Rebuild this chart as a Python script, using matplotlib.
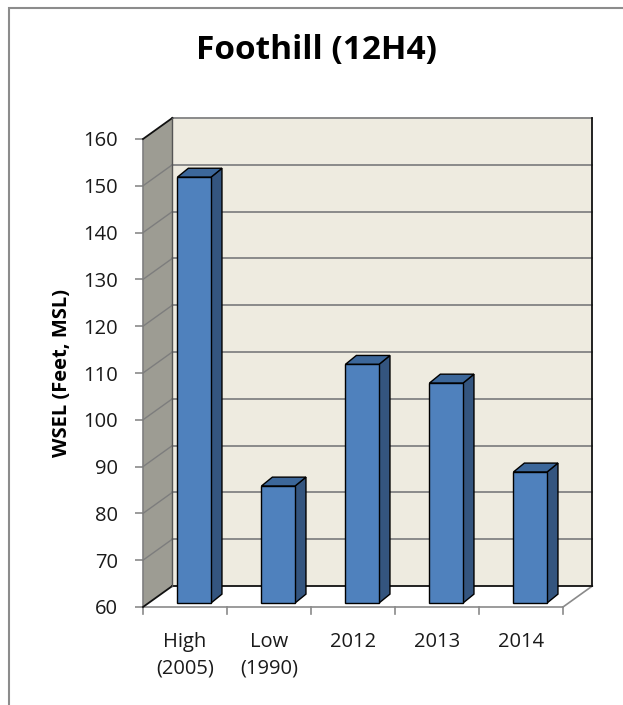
import matplotlib
matplotlib.use("Agg")
import matplotlib.pyplot as plt
from matplotlib.patches import Polygon, Rectangle

# Data
categories = ["High\n(2005)", "Low\n(1990)", "2012", "2013", "2014"]
wsel = [151, 85, 111, 107, 88]
y_ticks = [60, 70, 80, 90, 100, 110, 120, 130, 140, 150, 160]
title = "Foothill (12H4)"
y_label = "WSEL (Feet, MSL)"

# Styling
FONT = "Open Sans"
WALL_BACK = "#eeebe0"
WALL_SIDE = "#9d9c93"
FLOOR = "#ffffff"
GRID = "#8a8a8a"
BAR_FRONT = "#4f81bd"
BAR_SIDE = "#34557f"
BAR_TOP = "#3c679a"

ymin, ymax = y_ticks[0], y_ticks[-1]
n = len(categories)
# oblique depth of the plot box (in slot / value units)
DX, DY = 0.35, 4.5
# bar geometry
BAR_W = 0.40
BAR_OFF_X, BAR_OFF_Y = 0.11, 0.85
BAR_DX, BAR_DY = 0.13, 1.9

fig = plt.figure(figsize=(6.23, 7.05), dpi=100)
fig.patch.set_facecolor("white")

# chart frame
fig.add_artist(Rectangle((9 / 623, -0.05), 1.2, (705 - 8) / 705 + 0.05,
                         transform=fig.transFigure, fill=False,
                         edgecolor="#8c8c8c", linewidth=1.5))

ax = fig.add_axes([143 / 623, (705 - 607) / 705, 420 / 623, 468 / 705])
ax.set_xlim(-0.5, n - 0.5)
ax.set_ylim(ymin, ymax)
ax.patch.set_visible(False)
for s in ax.spines.values():
    s.set_visible(False)

x0, x1 = -0.5, n - 0.5

# floor
ax.add_patch(Polygon([(x0, ymin), (x1, ymin), (x1 + DX, ymin + DY), (x0 + DX, ymin + DY)],
                     closed=True, facecolor=FLOOR, edgecolor="none", clip_on=False, zorder=1))
ax.plot([x0, x1], [ymin, ymin], color=GRID, lw=1.2, clip_on=False, zorder=2)
ax.plot([x1, x1 + DX], [ymin, ymin + DY], color=GRID, lw=1.2, clip_on=False, zorder=2)

# side wall
ax.add_patch(Polygon([(x0, ymin), (x0, ymax), (x0 + DX, ymax + DY), (x0 + DX, ymin + DY)],
                     closed=True, facecolor=WALL_SIDE, edgecolor="none", clip_on=False, zorder=1))
ax.plot([x0, x0], [ymin, ymax], color="#7f7f7f", lw=1.2, clip_on=False, zorder=2)
ax.plot([x0, x0 + DX], [ymax, ymax + DY], color="#111111", lw=1.3, clip_on=False, zorder=3)
ax.plot([x0, x0 + DX], [ymin, ymin + DY], color="#111111", lw=1.3, clip_on=False, zorder=3)

# back wall
ax.add_patch(Rectangle((x0 + DX, ymin + DY), x1 - x0, ymax - ymin,
                       facecolor=WALL_BACK, edgecolor="none", clip_on=False, zorder=1))
for v in y_ticks[1:-1]:
    ax.plot([x0 + DX, x1 + DX], [v + DY, v + DY], color=GRID, lw=1.4, clip_on=False, zorder=2)
    ax.plot([x0, x0 + DX], [v, v + DY], color="#7d7d7d", lw=1.0, clip_on=False, zorder=2)
ax.plot([x0 + DX, x1 + DX], [ymax + DY, ymax + DY], color=GRID, lw=1.4, clip_on=False, zorder=2)
ax.plot([x0 + DX, x1 + DX], [ymin + DY, ymin + DY], color="#111111", lw=1.3, clip_on=False, zorder=3)
ax.plot([x1 + DX, x1 + DX], [ymin + DY, ymax + DY], color="#111111", lw=1.3, clip_on=False, zorder=3)
ax.plot([x0 + DX, x0 + DX], [ymin + DY, ymax + DY], color="#555555", lw=1.0, clip_on=False, zorder=3)

# bars: front face with ax.bar, side and top faces as oblique polygons
base = ymin + BAR_OFF_Y
centers = [i + BAR_OFF_X for i in range(n)]
for c, v in zip(centers, wsel):
    top = v + BAR_OFF_Y
    l, r = c - BAR_W / 2, c + BAR_W / 2
    ax.add_patch(Polygon([(r, base), (r + BAR_DX, base + BAR_DY), (r + BAR_DX, top + BAR_DY), (r, top)],
                         closed=True, facecolor=BAR_SIDE, edgecolor="black", lw=1.0,
                         clip_on=False, zorder=5))
    ax.add_patch(Polygon([(l, top), (r, top), (r + BAR_DX, top + BAR_DY), (l + BAR_DX, top + BAR_DY)],
                         closed=True, facecolor=BAR_TOP, edgecolor="black", lw=1.0,
                         clip_on=False, zorder=5))
ax.bar(centers, [v - ymin for v in wsel], width=BAR_W, bottom=base,
       color=BAR_FRONT, edgecolor="black", linewidth=1.0, zorder=6, clip_on=False)

# axes ticks
ax.set_yticks(y_ticks)
ax.set_yticklabels([str(t) for t in y_ticks], fontfamily=FONT, fontsize=14.5, color="#1a1a1a")
ax.tick_params(axis="y", length=6, width=1.2, color="#8a8a8a", pad=12)
ax.set_xticks(range(n))
ax.set_xticklabels(categories, fontfamily=FONT, fontsize=14.5, color="#1a1a1a", linespacing=1.45)
ax.tick_params(axis="x", length=0, pad=18)
for xb in [i - 0.5 for i in range(n + 1)]:
    ax.plot([xb, xb], [ymin, ymin - 1.5], color=GRID, lw=1.2, clip_on=False, zorder=2)

ax.yaxis.set_label_coords(-71 / 420, 0.5)
ax.set_ylabel(y_label, fontfamily=FONT, fontsize=14.5, fontweight="bold")

fig.text(317 / 623, 1 - 50 / 705, title, ha="center", va="center",
         fontfamily=FONT, fontsize=24, fontweight="bold")

fig.savefig("out.png", dpi=100)
